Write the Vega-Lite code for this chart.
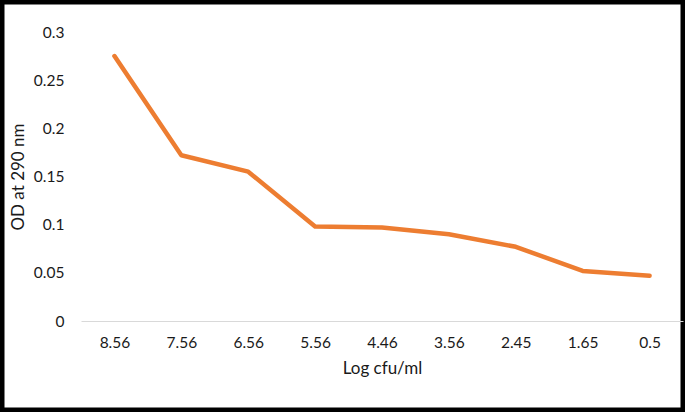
{
  "$schema": "https://vega.github.io/schema/vega-lite/v6.json",
  "width": 685,
  "height": 412,
  "autosize": {"type": "none"},
  "padding": 0,
  "background": "white",
  "config": {
    "view": {"stroke": "black", "strokeWidth": 9},
    "font": "Lato"
  },
  "data": {
    "values": [
      {"logcfu": "8.56", "od": 0.275},
      {"logcfu": "7.56", "od": 0.172},
      {"logcfu": "6.56", "od": 0.155},
      {"logcfu": "5.56", "od": 0.098},
      {"logcfu": "4.46", "od": 0.097},
      {"logcfu": "3.56", "od": 0.090},
      {"logcfu": "2.45", "od": 0.077},
      {"logcfu": "1.65", "od": 0.052},
      {"logcfu": "0.5", "od": 0.047}
    ]
  },
  "mark": {"type": "line", "color": "#ED7D31", "strokeWidth": 4.5, "strokeCap": "round", "strokeJoin": "round"},
  "encoding": {
    "x": {
      "field": "logcfu",
      "type": "ordinal",
      "sort": null,
      "scale": {"type": "point", "padding": 0.5, "range": [81, 683]},
      "axis": {
        "title": "Log cfu/ml",
        "orient": "bottom",
        "offset": -91,
        "domainColor": "#D9D9D9",
        "domainWidth": 1.2,
        "ticks": false,
        "tickSize": 0,
        "grid": false,
        "labelAngle": 0,
        "labelFontSize": 15.5,
        "labelColor": "#1a1a1a",
        "labelPadding": 14,
        "titleFontSize": 17,
        "titleFontWeight": "normal",
        "titleColor": "#1a1a1a",
        "titlePadding": 10
      }
    },
    "y": {
      "field": "od",
      "type": "quantitative",
      "scale": {"domain": [0, 0.3], "range": [321, 32], "nice": false, "zero": true},
      "axis": {
        "title": "OD at 290 nm",
        "orient": "left",
        "offset": -70,
        "values": [0, 0.05, 0.1, 0.15, 0.2, 0.25, 0.3],
        "format": "~g",
        "domain": false,
        "ticks": false,
        "tickSize": 0,
        "grid": false,
        "labelFontSize": 15.5,
        "labelColor": "#1a1a1a",
        "labelPadding": 6,
        "titleFontSize": 17,
        "titleFontWeight": "normal",
        "titleColor": "#1a1a1a",
        "titlePadding": 6
      }
    }
  }
}
